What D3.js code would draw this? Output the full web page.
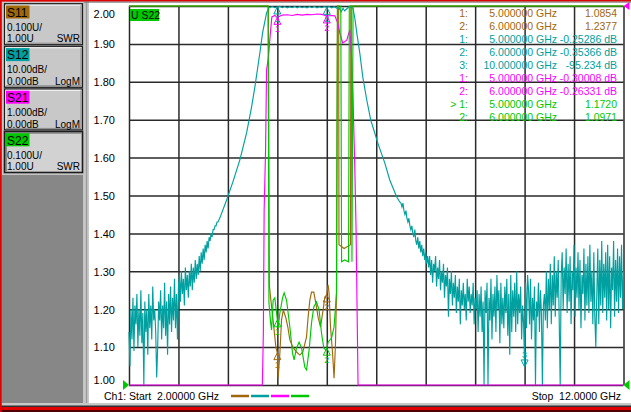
<!DOCTYPE html>
<html>
<head>
<meta charset="utf-8">
<script src="https://cdn.jsdelivr.net/npm/d3@7"></script>
<style>
body { margin: 0; background: #fff; overflow: hidden; }
svg text { font-family: "Liberation Sans", Arial, sans-serif; }
</style>
</head>
<body>
<div id="chart"></div>
<script>
var svgWidth = 631;
var svgHeight = 412;

// grid box of the analyzer screen
var plot = {left: 129, right: 623.5, top: 6, bottom: 385};

// sweep and graticule
var startGHz = 2;
var stopGHz = 12;
var freqTicks = [2, 3, 4, 5, 6, 7, 8, 9, 10, 11, 12];
var swrTicks = [1.0, 1.1, 1.2, 1.3, 1.4, 1.5, 1.6, 1.7, 1.8, 1.9, 2.0];

// channel buttons
var channelNames = ["S11", "S12", "S21", "S22"];
var channelScale = ["0.100U/", "10.00dB/", "1.000dB/", "0.100U/"];
var channelRef = ["1.00U", "0.00dB", "0.00dB", "1.00U"];
var channelFormat = ["SWR", "LogM", "LogM", "SWR"];

// S11, SWR  [GHz, SWR]  (out of band is off the top of the screen)
var s11Trace = [
    [2.0, 9.9], [4.818, 9.9], [4.838, 1.264], [4.869, 1.224], [4.909, 1.177], [4.949, 1.127],
    [4.970, 1.100], [5.000, 1.085], [5.016, 1.018], [5.051, 1.084], [5.085, 1.172], [5.121, 1.198],
    [5.172, 1.177], [5.212, 1.153], [5.253, 1.119], [5.313, 1.100], [5.388, 1.087], [5.455, 1.079],
    [5.515, 1.087], [5.590, 1.127], [5.622, 1.179], [5.657, 1.224], [5.691, 1.245], [5.737, 1.245],
    [5.778, 1.216], [5.824, 1.179], [5.873, 1.153], [5.925, 1.198], [5.960, 1.232], [6.000, 1.238],
    [6.026, 1.264], [6.046, 1.243], [6.075, 1.153], [6.115, 1.087], [6.147, 1.018], [6.176, 1.111],
    [6.196, 1.243], [6.216, 9.9], [6.240, 9.9], [6.246, 1.370], [6.350, 1.360], [6.480, 1.370],
    [6.486, 9.9], [12.0, 9.9]
];

// S22, SWR
var s22Trace = [
    [2.0, 9.9], [4.812, 9.9], [4.830, 1.216], [4.863, 1.166], [4.883, 1.145], [4.915, 1.224],
    [4.949, 1.230], [4.984, 1.190], [5.000, 1.172], [5.016, 1.150], [5.051, 1.190], [5.105, 1.230],
    [5.137, 1.243], [5.186, 1.224], [5.253, 1.153], [5.307, 1.084], [5.339, 1.066], [5.388, 1.098],
    [5.440, 1.113], [5.489, 1.098], [5.556, 1.047], [5.590, 1.040], [5.642, 1.092], [5.691, 1.164],
    [5.737, 1.206], [5.792, 1.219], [5.844, 1.198], [5.893, 1.137], [5.939, 1.098], [5.980, 1.092],
    [6.000, 1.097], [6.026, 1.113], [6.095, 1.124], [6.147, 1.153], [6.196, 1.243], [6.216, 9.9],
    [6.283, 9.9], [6.299, 1.325], [6.360, 1.330], [6.440, 1.325], [6.455, 9.9], [6.495, 9.9],
    [6.509, 1.325], [6.531, 9.9], [12.0, 9.9]
];

// S21, dB  (1 dB/div, below -10 dB is off the bottom)
var s21Trace = [
    [2.0, -30], [4.690, -30], [4.697, -10.0], [4.717, -8.63], [4.733, -5.38], [4.762, -3.80],
    [4.782, -1.69], [4.818, -1.37], [4.859, -0.71], [4.889, -0.29], [4.950, -0.25], [5.000, -0.30],
    [5.100, -0.24], [5.200, -0.23], [5.300, -0.25], [5.400, -0.22], [5.500, -0.24], [5.600, -0.22],
    [5.700, -0.23], [5.800, -0.21], [5.900, -0.22], [6.000, -0.263], [6.100, -0.25], [6.162, -0.26],
    [6.222, -0.45], [6.263, -0.71], [6.323, -0.98], [6.404, -0.90], [6.465, -0.63], [6.505, -1.42],
    [6.531, -2.48], [6.566, -4.25], [6.592, -5.91], [6.606, -7.36], [6.632, -10.0], [6.645, -30],
    [12.0, -30]
];

// S12, dB (10 dB/div): noise floor read every 20 MHz, skirts and passband as points
var s12LowStart = 2.00;
var s12HighStart = 7.50;
var s12Step = 0.02;
var s12Low = [
    -86, -95, -80, -88, -77, -91, -79, -84, -76, -90,
    -80, -87, -75, -89, -81, -100, -78, -86, -80, -92,
    -76, -85, -79, -88, -74, -83, -80, -86, -98, -90,
    -78, -83, -75, -88, -79, -85, -73, -87, -78, -92,
    -76, -84, -74, -86, -77, -83, -72, -85, -76, -88,
    -74,
    -71, -78, -70, -76, -72, -79, -69, -75, -71, -77,
    -70, -74, -68, -75, -69, -73, -67, -72, -68, -71,
    -66, -70, -65, -68, -64, -67, -63, -65, -62, -64,
    -61, -62, -60, -61, -59, -59, -58, -58, -57, -57
];
var s12Band = [
    [3.838, -55.9], [3.974, -51.2], [4.101, -46.4], [4.242, -40.6], [4.378, -33.5], [4.479, -26.6],
    [4.545, -21.4], [4.646, -12.4], [4.701, -7.1], [4.782, -1.8], [4.828, -0.5],
    [4.85, -0.40], [4.90, -0.15], [4.95, -0.45], [5.00, -0.253], [5.05, -0.10], [5.10, -0.45],
    [5.15, -0.15], [5.20, -0.50], [5.25, -0.20], [5.30, -0.45], [5.35, -0.10], [5.40, -0.50],
    [5.45, -0.15], [5.50, -0.45], [5.55, -0.20], [5.60, -0.50], [5.65, -0.15], [5.70, -0.45],
    [5.75, -0.10], [5.80, -0.50], [5.85, -0.20], [5.90, -0.45], [5.95, -0.15], [6.00, -0.354],
    [6.05, -0.15], [6.10, -0.50], [6.15, -0.20], [6.20, -0.55], [6.25, -0.50], [6.29, -1.5],
    [6.33, -0.6], [6.36, -1.3], [6.40, -0.8], [6.45, -0.2], [6.50, -0.4], [6.531, -0.6],
    [6.570, -3.5], [6.606, -7.1], [6.667, -12.4], [6.727, -18.7], [6.808, -24.8], [6.889, -30.1],
    [6.970, -33.5], [7.030, -36.1], [7.172, -41.4], [7.273, -45.9], [7.414, -50.4], [7.475, -51.7]
];
var s12High = [
    -52, -53, -52, -54, -55, -54, -56, -57, -56, -58,
    -59, -58, -60, -61, -59, -62, -63, -61, -64, -62,
    -65, -63, -66, -64, -67, -65, -68, -66, -69,
    -66, -71, -67, -73, -68, -70, -66, -74, -69, -72,
    -67, -75, -70, -73, -68, -77, -71, -74, -69, -82,
    -72, -76, -70, -79, -73, -77, -71, -81, -74, -78,
    -72, -84, -75, -79, -73, -80, -76, -83, -72, -78,
    -74, -81, -76, -79, -73, -84, -77, -80, -75, -86,
    -76, -82, -74, -86, -78, -100, -75, -81, -73, -100,
    -77, -83, -72, -88, -76, -82, -74, -86, -71, -80,
    -75, -89, -73, -84, -77, -85, -74, -81, -72, -87,
    -76, -92, -71, -86, -75, -82, -73, -86, -70, -84,
    -76, -81, -74, -88, -79, -84, -95, -73, -85, -71,
    -75, -84, -72, -88, -77, -83, -74, -100, -78, -82,
    -73, -86, -75, -81, -100, -79, -76, -83, -70, -85,
    -72, -80, -68, -84, -71, -79, -66, -82, -70, -77,
    -67, -83, -100, -71, -65, -80, -69, -76, -64, -81,
    -68, -78, -66, -84, -70, -75, -63, -82, -69, -77,
    -65, -80, -67, -85, -71, -76, -64, -83, -68, -79,
    -66, -81, -63, -78, -70, -84, -65, -82, -90, -76,
    -64, -84, -67, -79, -62, -81, -68, -77, -65, -83,
    -63, -80, -66, -85, -69, -75, -62, -82, -67, -78,
    -64, -81, -66, -77, -63, -80, -70
];

// marker readouts [number, GHz, value]
var s11Markers = [[1, 5, 1.0854], [2, 6, 1.2377]];
var s12Markers = [[1, 5, -0.25286], [2, 6, -0.35366], [3, 10, -95.234]];
var s21Markers = [[1, 5, -0.30008], [2, 6, -0.26331]];
var s22Markers = [[1, 5, 1.1720], [2, 6, 1.0971]];
var activeMarker = {channel: "S22", number: 1};

var colors = {S11: "#a0680c", S12: "#00a0a0", S21: "#ff00ff", S22: "#00c800"};

// build the S12 trace from its pieces
var s12Trace = s12Low.map((v, i) => [s12LowStart + i * s12Step, v])
    .concat(s12Band)
    .concat(s12High.map((v, i) => [s12HighStart + i * s12Step, v]));

var svg = d3.select("#chart")
    .append("svg")
    .attr("width", svgWidth)
    .attr("height", svgHeight);

// ---- window frame ----
svg.append("rect").attr("x", 0).attr("y", 0).attr("width", svgWidth).attr("height", svgHeight).attr("fill", "#ffffff");
svg.append("rect").attr("x", 0).attr("y", 0).attr("width", 84).attr("height", svgHeight).attr("fill", "#c4c4c4");
svg.append("rect").attr("x", 2).attr("y", 175).attr("width", 81).attr("height", 228).attr("fill", "#878787");
svg.append("rect").attr("x", 84).attr("y", 0).attr("width", 5).attr("height", svgHeight).attr("fill", "#c8c8c8");
svg.append("rect").attr("x", 85.8).attr("y", 2).attr("width", 1.4).attr("height", 402).attr("fill", "#9a9a9a");
svg.append("rect").attr("x", 0).attr("y", 403).attr("width", svgWidth).attr("height", 3).attr("fill", "#c8c8c8");
svg.append("rect").attr("x", 0).attr("y", 405.5).attr("width", svgWidth).attr("height", 1.5).attr("fill", "#303030");
svg.append("rect").attr("x", 0).attr("y", 407).attr("width", svgWidth).attr("height", 5).attr("fill", "#e00000");
svg.append("rect").attr("x", 0).attr("y", 410).attr("width", svgWidth).attr("height", 2).attr("fill", "#500000");
svg.append("rect").attr("x", 0).attr("y", 0).attr("width", svgWidth).attr("height", 1.6).attr("fill", "#e00000");
svg.append("rect").attr("x", 84).attr("y", 1.6).attr("width", svgWidth - 84).attr("height", 1).attr("fill", "#6a6a6a");
svg.append("rect").attr("x", 0).attr("y", 0).attr("width", 1.8).attr("height", svgHeight).attr("fill", "#e00000");

// ---- channel buttons ----
channelNames.forEach(function(name, i) {
    var top = 3.2 + i * 42.6;
    var pressed = name === activeMarker.channel;
    var g = svg.append("g").attr("transform", `translate(4, ${top})`);
    g.append("rect").attr("x", 0.5).attr("y", 0.5).attr("width", 78).attr("height", 41)
        .attr("fill", pressed ? "#d2d2d2" : "#c8c8c8")
        .attr("stroke", "#1c1c1c").attr("stroke-width", pressed ? 1.6 : 1.2);
    if (!pressed) {
        g.append("path").attr("d", "M2,40 L2,2 L77,2").attr("fill", "none").attr("stroke", "#f4f4f4").attr("stroke-width", 1);
        g.append("path").attr("d", "M2,40 L77,40 L77,2").attr("fill", "none").attr("stroke", "#8a8a8a").attr("stroke-width", 1);
    } else {
        g.append("path").attr("d", "M2,40 L2,2 L77,2").attr("fill", "none").attr("stroke", "#5a5a5a").attr("stroke-width", 1.2);
    }
    g.append("rect").attr("x", 2).attr("y", 2.3).attr("width", 23.5).attr("height", 13)
        .attr("fill", colors[name]);
    g.append("text").attr("x", 3).attr("y", 13.5).attr("font-size", "12px").attr("fill", "#000")
        .text(name);
    g.append("text").attr("x", 3).attr("y", 27.6).attr("font-size", "10px").attr("fill", "#000")
        .text(channelScale[i]);
    g.append("text").attr("x", 3).attr("y", 39.2).attr("font-size", "10px").attr("fill", "#000")
        .text(channelRef[i]);
    g.append("text").attr("x", 76).attr("y", 39.2).attr("font-size", "10px").attr("fill", "#000")
        .attr("text-anchor", "end").text(channelFormat[i]);
});

// ---- scales ----
var xScale = d3.scaleLinear().domain([startGHz, stopGHz]).range([plot.left, plot.right]);
var ySwr = d3.scaleLinear().domain([1, 2]).range([plot.bottom, plot.top]).clamp(true);
var yLogS12 = d3.scaleLinear().domain([-100, 0]).range([plot.bottom, plot.top]).clamp(true);
var yLogS21 = d3.scaleLinear().domain([-10, 0]).range([plot.bottom, plot.top]).clamp(true);
var plotW = plot.right - plot.left;
var plotH = plot.bottom - plot.top;

// graticule
var hGrid = svg.append("g")
    .attr("transform", `translate(${plot.left}, 0)`)
    .call(d3.axisLeft(ySwr).tickValues(swrTicks).tickSize(-plotW).tickFormat(""));
var vGrid = svg.append("g")
    .attr("transform", `translate(0, ${plot.bottom})`)
    .call(d3.axisBottom(xScale).tickValues(freqTicks).tickSize(-plotH).tickFormat(""));
[hGrid, vGrid].forEach(function(g) {
    g.select(".domain").remove();
    g.selectAll("line").attr("stroke", "#2a2a2a").attr("stroke-width", 1.5);
});

// y labels
var yLabels = svg.append("g")
    .attr("transform", `translate(${plot.left}, 0)`)
    .call(d3.axisLeft(ySwr).tickValues(swrTicks).tickSize(0).tickPadding(14).tickFormat(d3.format(".2f")));
yLabels.select(".domain").remove();
yLabels.selectAll("text")
    .attr("font-size", "11px")
    .attr("font-family", "Liberation Sans, Arial, sans-serif")
    .attr("fill", "#000")
    .attr("dy", d => d === 2 ? "1.0em" : (d === 1 ? "-0.1em" : "0.35em"));

// ---- traces ----
function drawTrace(data, yScale, color) {
    var line = d3.line()
        .x(d => xScale(d[0]))
        .y(d => yScale(d[1]));
    svg.append("path")
        .datum(data)
        .attr("d", line)
        .attr("fill", "none")
        .attr("stroke", color)
        .attr("stroke-width", 1.15)
        .attr("stroke-linejoin", "miter");
}

drawTrace(s11Trace, ySwr, colors.S11);
drawTrace(s12Trace, yLogS12, colors.S12);
drawTrace(s21Trace, yLogS21, colors.S21);
drawTrace(s22Trace, ySwr, colors.S22);

// ---- markers ----
function drawMarkers(markers, yScale, color) {
    markers.forEach(function(m) {
        var px = xScale(m[1]);
        var py = yScale(m[2]);
        var flip = plot.bottom - py < 20;
        var tri = flip ? `M${px},${py} l-3.5,-7 l7,0 z` : `M${px},${py} l-3.5,7 l7,0 z`;
        svg.append("path").attr("d", tri).attr("fill", "none").attr("stroke", color).attr("stroke-width", 1);
        svg.append("text")
            .attr("x", px)
            .attr("y", flip ? py - 8.5 : py + 15)
            .attr("text-anchor", "middle")
            .attr("font-size", "9px")
            .attr("fill", color)
            .text(m[0]);
    });
}
drawMarkers(s11Markers, ySwr, colors.S11);
drawMarkers(s12Markers, yLogS12, colors.S12);
drawMarkers(s21Markers, yLogS21, colors.S21);
drawMarkers(s22Markers, ySwr, colors.S22);

// ---- marker readout table ----
var fmtFreq = d3.format(".6f");
var fmtVal = d3.format(".5r");
var readRows = [];
[["S11", s11Markers, ""], ["S12", s12Markers, " dB"], ["S21", s21Markers, " dB"], ["S22", s22Markers, ""]]
    .forEach(function(c) {
        c[1].forEach(function(m) {
            var active = c[0] === activeMarker.channel && m[0] === activeMarker.number;
            readRows.push({
                color: colors[c[0]],
                label: (active ? "> " : "") + m[0] + ":",
                freq: fmtFreq(m[1]) + " GHz",
                value: fmtVal(m[2]).replace("\u2212", "-") + c[2]
            });
        });
    });

var readout = svg.append("g")
    .selectAll("g")
    .data(readRows)
    .enter()
    .append("g")
    .attr("transform", (d, i) => `translate(0, ${17 + i * 12.95})`)
    .attr("fill", d => d.color)
    .attr("font-size", "10.5px");
readout.append("text").attr("x", 468).attr("text-anchor", "end").text(d => d.label);
readout.append("text").attr("x", 557).attr("text-anchor", "end").text(d => d.freq);
readout.append("text").attr("x", 617).attr("text-anchor", "end").text(d => d.value);

// active trace tag
svg.append("rect").attr("x", 130).attr("y", 9).attr("width", 29).attr("height", 12).attr("fill", colors.S22);
svg.append("text").attr("x", 131).attr("y", 19).attr("font-size", "10.5px").attr("fill", "#000")
    .style("white-space", "pre").text("U S22");

// reference position arrows
svg.append("path").attr("d", `M${plot.left},${plot.bottom} l-6,-5 l0,10 z`).attr("fill", colors.S22);
svg.append("path").attr("d", `M${plot.right},${plot.bottom} l6,-5 l0,10 z`).attr("fill", colors.S22);
svg.append("path").attr("d", `M${plot.right},${plot.top} l6,-4 l0,8 z`).attr("fill", colors.S21);

// ---- footer ----
svg.append("text").attr("x", 104).attr("y", 400).attr("font-size", "10.5px").attr("fill", "#000")
    .style("white-space", "pre").text(`Ch1: Start  ${d3.format(".5f")(startGHz)} GHz`);
svg.append("text").attr("x", 621).attr("y", 400).attr("font-size", "10.5px").attr("fill", "#000")
    .attr("text-anchor", "end")
    .style("white-space", "pre").text(`Stop  ${d3.format(".4f")(stopGHz)} GHz`);
channelNames.forEach(function(name, i) {
    svg.append("line")
        .attr("x1", 231 + i * 20).attr("x2", 249 + i * 20)
        .attr("y1", 396).attr("y2", 396)
        .attr("stroke", colors[name]).attr("stroke-width", 2.5);
});
</script>
</body>
</html>
